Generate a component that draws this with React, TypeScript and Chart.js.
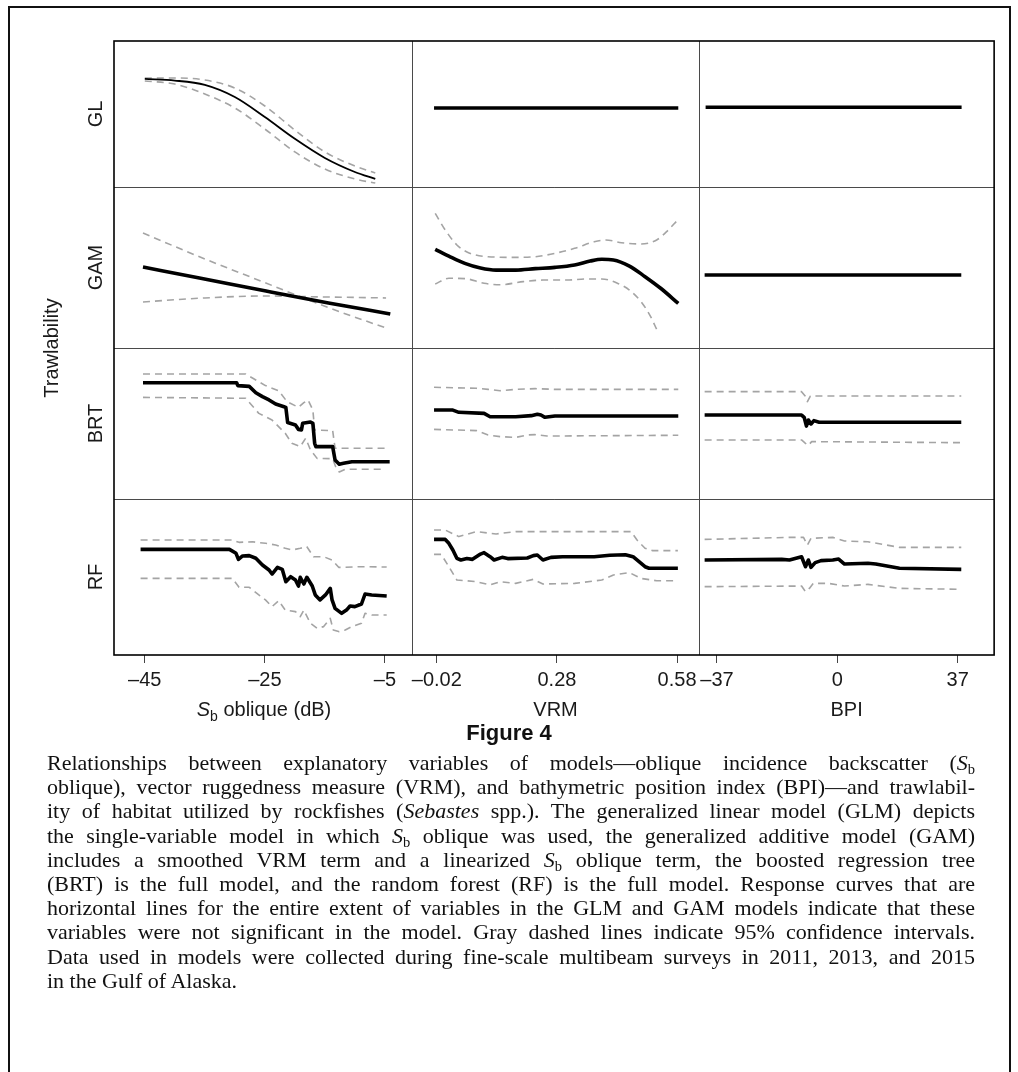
import React, { useEffect, useRef } from 'react';
import { Chart, registerables } from 'chart.js';

Chart.register(...registerables);

// ---------------- tick values, labels, titles ----------------
const SB_TICKS = [-45, -25, -5];
const SB_TICK_LABELS = ['\u201345', '\u201325', '\u20135'];
const VRM_TICKS = [-0.02, 0.28, 0.58];
const VRM_TICK_LABELS = ['\u20130.02', '0.28', '0.58'];
const BPI_TICKS = [-37, 0, 37];
const BPI_TICK_LABELS = ['\u201337', '0', '37'];

const ROW_LABELS = ['GL', 'GAM', 'BRT', 'RF'];
const X_TITLES = ['', 'VRM', 'BPI']; // the S_b title needs italic + subscript, drawn as HTML text
const Y_TITLE = 'Trawlability';

// axis ranges (x) of each column
const SB_RANGE = [-50.13, -0.48];
const VRM_RANGE = [-0.082, 0.635];
const BPI_RANGE = [-42.5, 48.2];

// ---------------- data: [x, trawlability] pairs ----------------
// GL row
const GL_SB_FIT = [[-45, 0.740], [-40, 0.729], [-35, 0.699], [-30, 0.616], [-25, 0.479], [-20, 0.330], [-15, 0.199], [-10, 0.103], [-6.6, 0.055]];
const GL_SB_UPPER = [[-45, 0.747], [-40, 0.747], [-35, 0.733], [-30, 0.678], [-25, 0.555], [-20, 0.390], [-15, 0.240], [-10, 0.144], [-6.6, 0.096]];
const GL_SB_LOWER = [[-45, 0.726], [-40, 0.705], [-35, 0.637], [-30, 0.541], [-25, 0.397], [-20, 0.240], [-15, 0.123], [-10, 0.055], [-6.6, 0.027]];
const GL_VRM_FIT = [[-0.027, 0.541], [0.583, 0.541]];
const GL_BPI_FIT = [[-40.5, 0.546], [38.2, 0.546]];

// GAM row
const GAM_SB_FIT = [[-45.3, 0.503], [-35.9, 0.435], [-24.8, 0.354], [-14.4, 0.280], [-4.1, 0.211]];
const GAM_SB_UPPER = [[-45.3, 0.714], [-35, 0.553], [-25, 0.406], [-15, 0.259], [-4.8, 0.124]];
const GAM_SB_LOWER = [[-45.3, 0.286], [-35, 0.311], [-25, 0.323], [-15, 0.317], [-4.8, 0.311]];
const GAM_VRM_FIT = [[-0.024, 0.613], [0.010, 0.571], [0.050, 0.526], [0.089, 0.497], [0.128, 0.484], [0.177, 0.484], [0.226, 0.493], [0.275, 0.501], [0.324, 0.516], [0.363, 0.540], [0.392, 0.551], [0.421, 0.547], [0.461, 0.509], [0.500, 0.443], [0.539, 0.371], [0.583, 0.277]];
const GAM_VRM_UPPER = [[-0.024, 0.836], [0.001, 0.733], [0.030, 0.640], [0.059, 0.592], [0.108, 0.567], [0.177, 0.563], [0.226, 0.567], [0.275, 0.588], [0.324, 0.619], [0.373, 0.660], [0.402, 0.671], [0.441, 0.654], [0.490, 0.646], [0.529, 0.671], [0.558, 0.733], [0.580, 0.791]];
const GAM_VRM_LOWER = [[-0.024, 0.398], [0.010, 0.433], [0.050, 0.431], [0.098, 0.402], [0.138, 0.393], [0.196, 0.412], [0.245, 0.422], [0.304, 0.422], [0.353, 0.429], [0.392, 0.429], [0.431, 0.402], [0.461, 0.360], [0.490, 0.288], [0.514, 0.195], [0.529, 0.116]];
const GAM_BPI_FIT = [[-40.8, 0.453], [38.1, 0.453]];

// BRT row
const BRT_SB_FIT = [[-45.3, 0.770], [-29.7, 0.770], [-29.5, 0.751], [-27.6, 0.746], [-26.5, 0.704], [-25.4, 0.678], [-24.3, 0.656], [-23.2, 0.629], [-21.8, 0.611], [-21.5, 0.607], [-21.2, 0.506], [-19.9, 0.490], [-19.4, 0.461], [-18.9, 0.457], [-18.7, 0.501], [-17.4, 0.510], [-17.0, 0.501], [-16.7, 0.369], [-16.5, 0.347], [-13.7, 0.347], [-13.3, 0.258], [-12.6, 0.230], [-11.9, 0.236], [-10.5, 0.247], [-4.2, 0.247]];
const BRT_SB_UPPER = [[-45.3, 0.828], [-28.2, 0.828], [-26.5, 0.788], [-24.9, 0.751], [-22.7, 0.717], [-21.3, 0.645], [-19.4, 0.607], [-18.5, 0.638], [-17.8, 0.656], [-17.0, 0.589], [-16.7, 0.457], [-13.7, 0.453], [-13.3, 0.336], [-5.0, 0.336]];
const BRT_SB_LOWER = [[-45.3, 0.673], [-28.2, 0.667], [-26.0, 0.567], [-23.8, 0.523], [-21.6, 0.435], [-20.5, 0.369], [-19.1, 0.347], [-18.2, 0.402], [-17.4, 0.325], [-16.3, 0.269], [-13.7, 0.267], [-13.2, 0.214], [-12.6, 0.179], [-11.6, 0.197], [-5.0, 0.197]];
const BRT_VRM_FIT = [[-0.027, 0.589], [0.020, 0.589], [0.035, 0.574], [0.098, 0.567], [0.113, 0.545], [0.177, 0.545], [0.216, 0.552], [0.231, 0.561], [0.240, 0.556], [0.250, 0.541], [0.275, 0.550], [0.583, 0.550]];
const BRT_VRM_UPPER = [[-0.027, 0.740], [0.079, 0.733], [0.108, 0.726], [0.138, 0.717], [0.177, 0.726], [0.226, 0.731], [0.275, 0.726], [0.583, 0.726]];
const BRT_VRM_LOWER = [[-0.027, 0.461], [0.079, 0.453], [0.108, 0.424], [0.138, 0.413], [0.177, 0.408], [0.206, 0.424], [0.226, 0.426], [0.255, 0.417], [0.583, 0.422]];
const BRT_BPI_FIT = [[-40.8, 0.556], [-11.0, 0.556], [-10.2, 0.541], [-9.5, 0.483], [-8.9, 0.523], [-8.1, 0.497], [-7.2, 0.519], [-5.6, 0.508], [38.1, 0.508]];
const BRT_BPI_UPPER = [[-40.8, 0.711], [-11.0, 0.711], [-9.9, 0.682], [-9.2, 0.645], [-8.3, 0.682], [38.1, 0.682]];
const BRT_BPI_LOWER = [[-40.8, 0.391], [-11.0, 0.391], [-9.8, 0.369], [-8.9, 0.355], [-7.9, 0.380], [38.1, 0.373]];

// RF row
const RF_SB_FIT = [[-45.7, 0.677], [-30.9, 0.677], [-29.8, 0.652], [-29.4, 0.613], [-28.7, 0.635], [-27.6, 0.637], [-26.5, 0.620], [-25.4, 0.577], [-24.3, 0.545], [-23.8, 0.519], [-22.9, 0.562], [-22.1, 0.549], [-21.5, 0.470], [-20.7, 0.502], [-19.9, 0.481], [-19.4, 0.442], [-19.1, 0.498], [-18.5, 0.455], [-18.0, 0.498], [-17.1, 0.442], [-16.6, 0.385], [-15.8, 0.353], [-14.9, 0.385], [-14.1, 0.427], [-13.8, 0.353], [-13.3, 0.299], [-12.2, 0.267], [-11.4, 0.288], [-10.8, 0.314], [-10.0, 0.310], [-8.9, 0.327], [-8.3, 0.391], [-7.2, 0.385], [-4.7, 0.378]];
const RF_SB_UPPER = [[-45.7, 0.737], [-30.4, 0.737], [-29.3, 0.722], [-27.1, 0.726], [-24.9, 0.716], [-23.2, 0.705], [-21.6, 0.684], [-20.5, 0.673], [-19.1, 0.684], [-18.0, 0.694], [-16.9, 0.630], [-15.2, 0.630], [-13.8, 0.609], [-12.7, 0.562], [-11.6, 0.562], [-9.4, 0.566], [-8.3, 0.566], [-4.7, 0.564]];
const RF_SB_LOWER = [[-45.7, 0.491], [-30.4, 0.491], [-29.3, 0.434], [-27.6, 0.434], [-26.0, 0.385], [-24.9, 0.353], [-23.8, 0.310], [-22.7, 0.348], [-21.6, 0.288], [-19.9, 0.278], [-19.1, 0.246], [-18.5, 0.288], [-17.4, 0.203], [-16.3, 0.171], [-15.2, 0.182], [-14.1, 0.235], [-13.6, 0.160], [-12.7, 0.150], [-11.6, 0.160], [-10.5, 0.182], [-8.9, 0.203], [-8.3, 0.267], [-7.2, 0.256], [-4.7, 0.256]];
const RF_VRM_FIT = [[-0.027, 0.741], [0.001, 0.741], [0.010, 0.716], [0.020, 0.673], [0.030, 0.620], [0.040, 0.609], [0.055, 0.618], [0.069, 0.613], [0.089, 0.647], [0.098, 0.656], [0.113, 0.630], [0.123, 0.609], [0.143, 0.626], [0.157, 0.618], [0.206, 0.622], [0.221, 0.637], [0.231, 0.641], [0.245, 0.609], [0.265, 0.626], [0.294, 0.630], [0.373, 0.630], [0.412, 0.639], [0.451, 0.643], [0.470, 0.630], [0.500, 0.566], [0.510, 0.556], [0.582, 0.556]];
const RF_VRM_UPPER = [[-0.027, 0.801], [0.001, 0.801], [0.035, 0.759], [0.079, 0.791], [0.128, 0.776], [0.177, 0.791], [0.275, 0.791], [0.373, 0.791], [0.465, 0.791], [0.480, 0.737], [0.500, 0.684], [0.519, 0.669], [0.582, 0.669]];
const RF_VRM_LOWER = [[-0.027, 0.645], [-0.009, 0.645], [0.010, 0.566], [0.030, 0.481], [0.079, 0.470], [0.113, 0.449], [0.138, 0.470], [0.177, 0.459], [0.221, 0.485], [0.245, 0.455], [0.324, 0.459], [0.392, 0.481], [0.421, 0.513], [0.461, 0.528], [0.490, 0.491], [0.529, 0.476], [0.582, 0.476]];
const RF_BPI_FIT = [[-40.8, 0.609], [-17.1, 0.613], [-14.7, 0.609], [-11.0, 0.630], [-9.8, 0.566], [-8.9, 0.609], [-8.1, 0.562], [-6.8, 0.592], [-5.0, 0.605], [-1.4, 0.609], [0.4, 0.615], [2.2, 0.583], [9.4, 0.588], [11.8, 0.583], [19.1, 0.556], [38.1, 0.549]];
const RF_BPI_UPPER = [[-40.8, 0.741], [-14.7, 0.754], [-10.4, 0.754], [-9.2, 0.705], [-8.1, 0.748], [-1.4, 0.754], [2.2, 0.731], [9.4, 0.726], [19.1, 0.690], [38.1, 0.690]];
const RF_BPI_LOWER = [[-40.8, 0.438], [-11.0, 0.442], [-9.8, 0.406], [-8.6, 0.427], [-7.4, 0.459], [-2.6, 0.459], [2.2, 0.442], [9.4, 0.453], [19.1, 0.427], [38.1, 0.421]];

// ---------------- layout & style (kept apart from the data) ----------------
const FONT = "'Liberation Sans', Arial, Helvetica, sans-serif";
const CANVAS_W = 1018;
const CANVAS_H = 730;
const COL_WIDTHS = [300, 289, 297];
const ROW_HEIGHTS = [146, 161, 151, 156];
const TEXT_COLOR = '#1a1a1a';
const CI_COLOR = '#a4a4a4';

const COLUMNS = [
  { range: SB_RANGE, ticks: SB_TICKS, labels: SB_TICK_LABELS, title: X_TITLES[0] },
  { range: VRM_RANGE, ticks: VRM_TICKS, labels: VRM_TICK_LABELS, title: X_TITLES[1] },
  { range: BPI_RANGE, ticks: BPI_TICKS, labels: BPI_TICK_LABELS, title: X_TITLES[2] },
];

const PANELS: any[] = [
  { row: 0, col: 0, fit: GL_SB_FIT, upper: GL_SB_UPPER, lower: GL_SB_LOWER, smooth: true, thin: true },
  { row: 0, col: 1, fit: GL_VRM_FIT },
  { row: 0, col: 2, fit: GL_BPI_FIT },
  { row: 1, col: 0, fit: GAM_SB_FIT, upper: GAM_SB_UPPER, lower: GAM_SB_LOWER, smooth: true },
  { row: 1, col: 1, fit: GAM_VRM_FIT, upper: GAM_VRM_UPPER, lower: GAM_VRM_LOWER, smooth: true },
  { row: 1, col: 2, fit: GAM_BPI_FIT },
  { row: 2, col: 0, fit: BRT_SB_FIT, upper: BRT_SB_UPPER, lower: BRT_SB_LOWER },
  { row: 2, col: 1, fit: BRT_VRM_FIT, upper: BRT_VRM_UPPER, lower: BRT_VRM_LOWER },
  { row: 2, col: 2, fit: BRT_BPI_FIT, upper: BRT_BPI_UPPER, lower: BRT_BPI_LOWER },
  { row: 3, col: 0, fit: RF_SB_FIT, upper: RF_SB_UPPER, lower: RF_SB_LOWER },
  { row: 3, col: 1, fit: RF_VRM_FIT, upper: RF_VRM_UPPER, lower: RF_VRM_LOWER },
  { row: 3, col: 2, fit: RF_BPI_FIT, upper: RF_BPI_UPPER, lower: RF_BPI_LOWER },
];

const toXY = (pts: number[][]) => pts.map(([x, y]) => ({ x, y }));

function buildDatasets() {
  const out: any[] = [];
  PANELS.forEach((p, i) => {
    const common = {
      xAxisID: 'x' + p.col,
      yAxisID: 'y' + p.row,
      pointRadius: 0,
      pointHoverRadius: 0,
      fill: false,
      borderJoinStyle: 'round',
      cubicInterpolationMode: p.smooth ? 'monotone' : 'default',
      tension: 0,
    };
    out.push({ ...common, label: ROW_LABELS[p.row] + ' fit ' + i, data: toXY(p.fit), borderColor: '#000', borderWidth: p.thin ? 1.8 : 3.6, order: 0 });
    if (p.upper) out.push({ ...common, label: ROW_LABELS[p.row] + ' upper ' + i, data: toXY(p.upper), borderColor: CI_COLOR, borderWidth: 1.6, borderDash: [7, 5], order: 1 });
    if (p.lower) out.push({ ...common, label: ROW_LABELS[p.row] + ' lower ' + i, data: toXY(p.lower), borderColor: CI_COLOR, borderWidth: 1.6, borderDash: [7, 5], order: 1 });
  });
  return out;
}

function buildScales() {
  const scales: any = {};
  COLUMNS.forEach((c, i) => {
    scales['x' + i] = {
      type: 'linear',
      position: 'bottom',
      stack: 'cols',
      stackWeight: COL_WIDTHS[i],
      weight: i,
      bounds: 'data',
      min: c.range[0],
      max: c.range[1],
      afterBuildTicks: (s: any) => { s.ticks = c.ticks.map((v) => ({ value: v })); },
      afterFit: (s: any) => { s.height = 75; },
      ticks: {
        autoSkip: false,
        maxRotation: 0,
        minRotation: 0,
        padding: 5,
        color: TEXT_COLOR,
        font: { family: FONT, size: 20 },
        callback: (_v: any, idx: number) => c.labels[idx],
      },
      grid: { display: true, drawOnChartArea: false, drawTicks: true, tickLength: 8, color: '#444', lineWidth: 1 },
      border: { display: false },
      title: { display: !!c.title, text: c.title, color: TEXT_COLOR, font: { family: FONT, size: 20 }, padding: { top: 0, bottom: 8 } },
    };
  });
  ROW_LABELS.forEach((lab, r) => {
    scales['y' + r] = {
      type: 'linear',
      position: 'left',
      stack: 'rows',
      stackWeight: ROW_HEIGHTS[r],
      weight: 4 - r,
      min: 0,
      max: 1,
      afterFit: (s: any) => { s.width = 40; },
      ticks: { display: false },
      grid: { display: false, drawTicks: false },
      border: { display: false },
      title: { display: true, text: lab, color: TEXT_COLOR, font: { family: FONT, size: 20 }, padding: { top: 10, bottom: 0 } },
    };
  });
  scales.yT = {
    type: 'linear',
    position: 'left',
    weight: 10,
    min: 0,
    max: 1,
    afterFit: (s: any) => { s.width = 44; },
    ticks: { display: false },
    grid: { display: false, drawTicks: false },
    border: { display: false },
    title: { display: true, text: Y_TITLE, color: TEXT_COLOR, font: { family: FONT, size: 20 }, padding: { top: 10, bottom: 0 } },
  };
  return scales;
}

const framePlugin = {
  id: 'panelFrame',
  afterDatasetsDraw(chart: any) {
    const { ctx, chartArea: a, scales } = chart;
    const line = (x1: number, y1: number, x2: number, y2: number) => {
      ctx.beginPath(); ctx.moveTo(x1, y1); ctx.lineTo(x2, y2); ctx.stroke();
    };
    ctx.save();
    ctx.strokeStyle = '#4a4a4a';
    ctx.lineWidth = 1;
    [scales.x1.left, scales.x2.left].forEach((x: number) => line(Math.round(x) + 0.5, a.top, Math.round(x) + 0.5, a.bottom));
    [scales.y1.top, scales.y2.top, scales.y3.top].forEach((y: number) => line(a.left, Math.round(y) + 0.5, a.right, Math.round(y) + 0.5));
    ctx.strokeStyle = '#000';
    ctx.lineWidth = 1.6;
    ctx.strokeRect(a.left, a.top, a.right - a.left, a.bottom - a.top);
    ctx.restore();
  },
};

const subStyle: React.CSSProperties = { fontSize: '0.66em', position: 'relative', top: '0.3em', fontStyle: 'normal', lineHeight: 0 };
const Sb = () => (<><i>S</i><span style={subStyle}>b</span></>);

const CAPTION_LINES: React.ReactNode[] = [
  <>Relationships between explanatory variables of models{'\u2014'}oblique incidence backscatter (<Sb /></>,
  <>oblique), vector ruggedness measure (VRM), and bathymetric position index (BPI){'\u2014'}and trawlabil-</>,
  <>ity of habitat utilized by rockfishes (<i>Sebastes</i> spp.). The generalized linear model (GLM) depicts</>,
  <>the single-variable model in which <Sb /> oblique was used, the generalized additive model (GAM)</>,
  <>includes a smoothed VRM term and a linearized <Sb /> oblique term, the boosted regression tree</>,
  <>(BRT) is the full model, and the random forest (RF) is the full model. Response curves that are</>,
  <>horizontal lines for the entire extent of variables in the GLM and GAM models indicate that these</>,
  <>variables were not significant in the model. Gray dashed lines indicate 95% confidence intervals.</>,
  <>Data used in models were collected during fine-scale multibeam surveys in 2011, 2013, and 2015</>,
  <>in the Gulf of Alaska.</>,
];

export default function App() {
  const ref = useRef<HTMLCanvasElement>(null);
  useEffect(() => {
    const canvas = ref.current;
    if (!canvas) return;
    const chart = new Chart(canvas, {
      type: 'line',
      data: { datasets: buildDatasets() },
      options: {
        animation: false,
        responsive: false,
        maintainAspectRatio: false,
        events: [],
        layout: { padding: { left: 30, top: 41, right: 18, bottom: 0 } },
        plugins: { legend: { display: false }, tooltip: { enabled: false }, title: { display: false } },
        scales: buildScales(),
      },
      plugins: [framePlugin],
    } as any);
    return () => chart.destroy();
  }, []);

  return (
    <div>
      <div style={{ position: 'fixed', left: 8, top: 6, width: 1003, height: 1100, border: '2px solid #111', boxSizing: 'border-box', pointerEvents: 'none' }} />
      <div style={{ position: 'absolute', left: 0, top: 0, width: CANVAS_W, height: CANVAS_H }}>
        <canvas ref={ref} width={CANVAS_W} height={CANVAS_H} style={{ display: 'block' }} />
      </div>
      <div style={{ position: 'absolute', left: 114, top: 697, width: 300, textAlign: 'center', fontFamily: FONT, fontSize: 20, lineHeight: '24px', color: TEXT_COLOR }}>
        <i>S</i><span style={{ fontSize: 14, position: 'relative', top: 5, lineHeight: 0 }}>b</span> oblique (dB)
      </div>
      <div style={{ position: 'absolute', left: 0, top: 721, width: CANVAS_W, textAlign: 'center', fontFamily: FONT, fontWeight: 'bold', fontSize: 22, lineHeight: '24px', color: '#111' }}>
        Figure 4
      </div>
      <div style={{ position: 'absolute', left: 47, top: 751, width: 928, fontFamily: "'Liberation Serif', 'Times New Roman', serif", fontSize: 22, lineHeight: '24.2px', color: '#111' }}>
        {CAPTION_LINES.map((ln, i) => (
          <div key={i} style={{ height: '24.2px', whiteSpace: 'nowrap', textAlign: 'justify', textAlignLast: i === CAPTION_LINES.length - 1 ? 'left' : 'justify' }}>{ln}</div>
        ))}
      </div>
    </div>
  );
}
